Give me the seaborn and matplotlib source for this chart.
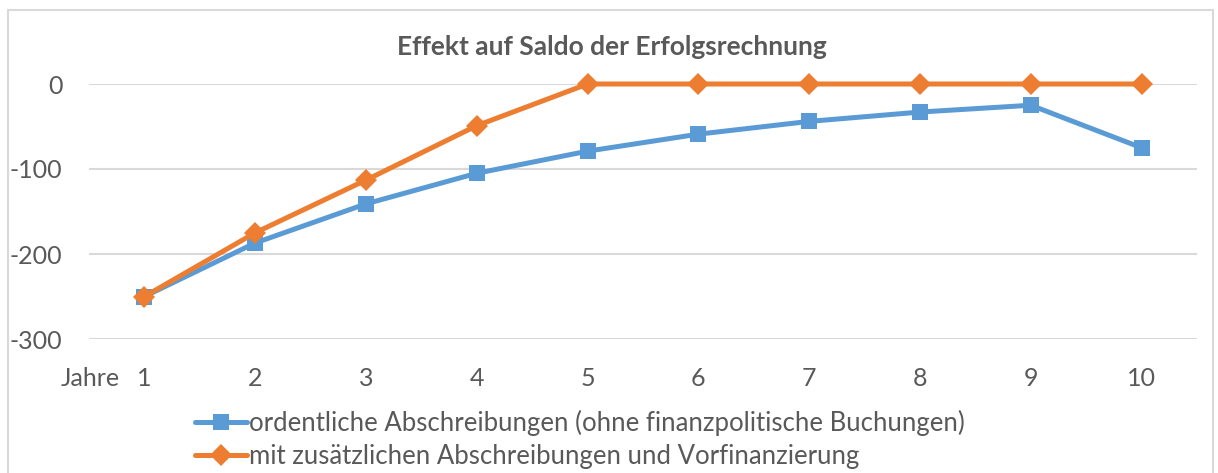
import seaborn as sns
import matplotlib.pyplot as plt
import pandas as pd
from matplotlib.patches import Rectangle

# data
jahre = [1, 2, 3, 4, 5, 6, 7, 8, 9, 10]
ordentlich = [-250, -187, -141, -105, -79, -59, -44, -33, -25, -75]
zusaetzlich = [-250, -175, -113, -49, 0, 0, 0, 0, 0, 0]
yticks = [0, -100, -200, -300]

label_ord = "ordentliche Abschreibungen (ohne finanzpolitische Buchungen)"
label_zus = "mit zusätzlichen Abschreibungen und Vorfinanzierung"
title = "Effekt auf Saldo der Erfolgsrechnung"

sns.set_style("white")
plt.rcParams['font.family'] = ['Lato', 'DejaVu Sans']
plt.rcParams['axes.unicode_minus'] = False
grey = "#595959"

df = pd.DataFrame({"Jahr": jahre, "ord": ordentlich, "zus": zusaetzlich})

fig = plt.figure(figsize=(12.18, 4.73), dpi=100)
ax = fig.add_axes([89/1218, 1 - 339/473, 1108/1218, 255/473])

sns.lineplot(data=df, x="Jahr", y="ord", ax=ax, color="#5B9BD5", linewidth=3.6,
             marker="s", markersize=13, markeredgewidth=0, label=label_ord, clip_on=False)
sns.lineplot(data=df, x="Jahr", y="zus", ax=ax, color="#ED7D31", linewidth=3.6,
             marker="D", markersize=14, markeredgewidth=0, label=label_zus, clip_on=False)

ax.set_xlim(0.5, 10.5)
ax.set_ylim(-300, 0)
ax.set_yticks(yticks)
ax.set_xticks(jahre)
ax.grid(axis="y", color="#D9D9D9", linewidth=1.5)
ax.set_axisbelow(True)
for s in ax.spines.values():
    s.set_visible(False)
ax.tick_params(axis="both", length=0, labelsize=18, labelcolor=grey)
ax.tick_params(axis="y", pad=19)
ax.tick_params(axis="x", pad=20)
ax.set_xlabel("")
ax.set_ylabel("")

fig.text(90/1218, 1 - 378/473, "Jahre", fontsize=18, color=grey, ha="center", va="center")
fig.text(612/1218, 1 - 47/473, title, fontsize=19, fontweight="bold", color=grey,
         ha="center", va="center")

ax.get_legend().remove()
h, l = ax.get_legend_handles_labels()
for hd in h:
    hd.set_markersize(11)
fig.legend(h, l, loc="upper left", bbox_to_anchor=(185/1218, 1 - 400/473), frameon=False,
           fontsize=18.5, labelcolor=grey, handlelength=2.0, handletextpad=0.1,
           labelspacing=0.3, borderaxespad=0)

fig.patches.append(Rectangle((8/1218, -0.05), 1205/1218, 1.05 - 10/473, transform=fig.transFigure,
                             fill=False, edgecolor="#D9D9D9", linewidth=1.5))

fig.savefig("out.png", dpi=100)
